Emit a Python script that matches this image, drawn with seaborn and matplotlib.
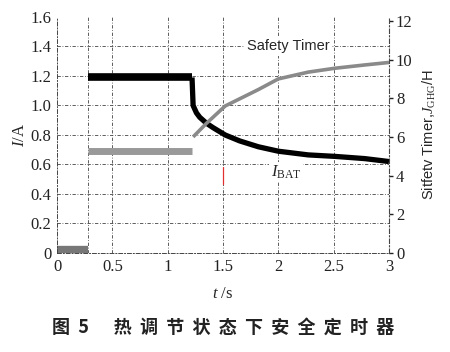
import matplotlib
matplotlib.use("Agg")
import matplotlib.pyplot as plt
import seaborn as sns
import pandas as pd

# ---- data ----
t_zero = [0.0, 0.28]
i_zero = [0.02, 0.02]

t_bat_plateau = [0.28, 1.22]
i_bat_plateau = [1.19, 1.19]

t_bat_decay = [1.22, 1.23, 1.26, 1.29, 1.35, 1.41, 1.52, 1.65, 1.82, 2.0, 2.27, 2.51, 2.78, 3.0]
i_bat_decay = [1.19, 1.0, 0.95, 0.92, 0.88, 0.85, 0.80, 0.76, 0.72, 0.69, 0.665, 0.655, 0.64, 0.62]

t_timer_plateau = [0.28, 1.22]
h_timer_plateau = [5.27, 5.27]

t_timer_rise = [1.23, 1.35, 1.52, 1.82, 2.0, 2.27, 2.51, 2.78, 3.0]
h_timer_rise = [6.0, 6.7, 7.6, 8.45, 9.0, 9.35, 9.55, 9.72, 9.85]

t_red = [1.5, 1.5]
i_red = [0.47, 0.58]

x_ticks = [0, 0.5, 1, 1.5, 2, 2.5, 3]
x_tick_labels = ["0", "0.5", "1", "1.5", "2", "2.5", "3"]
y_ticks = [0, 0.2, 0.4, 0.6, 0.8, 1.0, 1.2, 1.4, 1.6]
y_tick_labels = ["0", "0.2", "0.4", "0.6", "0.8", "1.0", "1.2", "1.4", "1.6"]
y2_ticks = [0, 2, 4, 6, 8, 10, 12]
y2_tick_labels = ["0", "2", "4", "6", "8", "10", "12"]
caption = "图  5      热  调  节  状  态  下  安  全  定  时  器"

# ---- plot ----
sns.set_theme(style="white")
plt.rcParams['font.family'] = ['Liberation Serif', 'DejaVu Sans']
plt.rcParams['mathtext.fontset'] = 'custom'
plt.rcParams['mathtext.rm'] = 'Liberation Serif'
plt.rcParams['mathtext.it'] = 'Liberation Serif:italic'

fig = plt.figure(figsize=(4.5, 3.52), dpi=100)
ax = fig.add_axes([0.1267, 0.2813, 0.7377, 0.6704])
ax2 = ax.twinx()

grid_kw = dict(color="#444444", lw=0.6, linestyle=(0, (4, 2, 1, 2)), zorder=0)
for gx in [0.28, 0.5, 1, 1.5, 2, 2.5]:
    ax.axvline(gx, **grid_kw)
for gy in [0.2, 0.4, 0.6, 0.8, 1.0, 1.2, 1.4]:
    ax.axhline(gy, **grid_kw)

def line(a, x, y, **kw):
    sns.lineplot(x=x, y=y, ax=a, estimator=None, sort=False, legend=False, **kw)

line(ax, t_zero, i_zero, color="#777777", lw=6, solid_capstyle="butt")
line(ax, t_bat_plateau, i_bat_plateau, color="black", lw=5.5, solid_capstyle="butt")
line(ax, t_bat_decay, i_bat_decay, color="black", lw=3.8, solid_capstyle="butt")
line(ax, t_red, i_red, color="#e03030", lw=0.9)
line(ax2, t_timer_plateau, h_timer_plateau, color="#999999", lw=5, solid_capstyle="butt")
line(ax2, t_timer_rise, h_timer_rise, color="#8a8a8a", lw=2.6, solid_capstyle="butt")

ax.set_xlim(0, 3)
ax.set_ylim(0, 1.6)
ax2.set_ylim(0, 12.2)
ax.set_xticks(x_ticks)
ax.set_xticklabels(x_tick_labels)
ax.set_yticks(y_ticks)
ax.set_yticklabels(y_tick_labels)
ax2.set_yticks(y2_ticks)
ax2.set_yticklabels(y2_tick_labels)

ax.tick_params(axis="both", length=0, labelsize=12, colors="#222222", pad=4)
ax2.tick_params(axis="y", length=3, width=1, direction="out", labelsize=12,
                colors="#222222", pad=2)

for a in (ax, ax2):
    a.spines["top"].set_visible(False)
for s in ["left", "bottom"]:
    ax.spines[s].set_linestyle((0, (4, 2, 1, 2)))
    ax.spines[s].set_color("#444444")
    ax.spines[s].set_linewidth(0.7)
ax.spines["right"].set_visible(False)
ax2.spines["left"].set_visible(False)
ax2.spines["bottom"].set_visible(False)
ax2.spines["right"].set_linestyle((0, (4, 2, 1, 2)))
ax2.spines["right"].set_color("#444444")
ax2.spines["right"].set_linewidth(0.8)

ax.set_xlabel("$t$ /s", fontsize=12, labelpad=8)
ax.set_ylabel("$I$/A", fontsize=12, labelpad=2)
ax2.set_ylabel(r"Sitfetv Timer,$J_{\rm GHG}$/H", fontsize=10.5, labelpad=6,
               family=["Liberation Sans", "DejaVu Sans"])

ax.text(2.09, 1.40, "Safety Timer", ha="center", va="center", fontsize=10.5,
        family=["Liberation Sans", "DejaVu Sans"],
        bbox=dict(facecolor="white", edgecolor="none", pad=1.5), zorder=5)
ax.text(2.07, 0.55, r"$I_{\rm BAT}$", ha="center", va="center", fontsize=12,
        bbox=dict(facecolor="white", edgecolor="none", pad=1), zorder=5)

fig.text(0.495, 0.07, caption, ha="center", va="center", fontsize=13,
         weight="bold", family=["Noto Sans CJK SC", "DejaVu Sans"], color="#222222")

fig.savefig("out.png", dpi=100)
